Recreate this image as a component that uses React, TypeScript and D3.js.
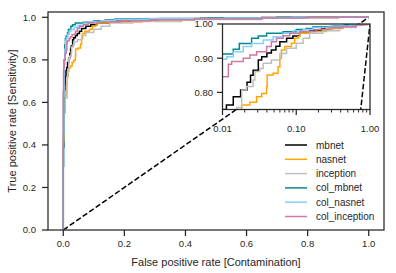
import React from 'react';
import * as d3 from 'd3';

type Pt = [number, number];

// ROC points: [fpr, tpr] where the curve steps up
const mbnet: Pt[] = [
  [0, 0], [0, 0.39], [0.002, 0.55], [0.004, 0.66], [0.006, 0.72], [0.009, 0.75],
  [0.0113, 0.763], [0.014, 0.787], [0.0176, 0.807], [0.0215, 0.83], [0.024, 0.85],
  [0.026, 0.865], [0.0306, 0.895], [0.034, 0.904], [0.04, 0.915], [0.046, 0.924],
  [0.053, 0.935], [0.06, 0.948], [0.074, 0.958], [0.09, 0.965], [0.111, 0.973],
  [0.152, 0.982], [0.22, 0.987], [0.31, 0.992], [0.45, 0.996], [0.65, 0.999],
  [0.8, 1], [1, 1],
];
const nasnet: Pt[] = [
  [0, 0], [0, 0.42], [0.003, 0.55], [0.006, 0.63], [0.01, 0.68], [0.013, 0.72],
  [0.016, 0.745], [0.0182, 0.763], [0.0235, 0.771], [0.029, 0.787], [0.0339, 0.797],
  [0.0396, 0.817], [0.0403, 0.851], [0.0486, 0.856], [0.0567, 0.875], [0.06, 0.9],
  [0.063, 0.924], [0.07, 0.934], [0.086, 0.944], [0.0955, 0.958], [0.106, 0.963],
  [0.111, 0.973], [0.152, 0.978], [0.256, 0.987], [0.429, 0.994], [0.65, 0.997],
  [0.9, 1], [1, 1],
];
const inception: Pt[] = [
  [0, 0], [0, 0.45], [0.003, 0.55], [0.006, 0.62], [0.0125, 0.72], [0.0156, 0.756],
  [0.0182, 0.807], [0.0212, 0.817], [0.026, 0.836], [0.0275, 0.861], [0.032, 0.87],
  [0.0356, 0.885], [0.046, 0.895], [0.06, 0.914], [0.074, 0.929], [0.1, 0.944],
  [0.124, 0.958], [0.152, 0.973], [0.228, 0.98], [0.387, 0.99], [0.65, 0.997],
  [0.9, 1], [1, 1],
];
const colMbnet: Pt[] = [
  [0, 0], [0, 0.3], [0.001, 0.66], [0.003, 0.8], [0.005, 0.87], [0.007, 0.9],
  [0.0095, 0.912], [0.014, 0.926], [0.0169, 0.943], [0.0248, 0.958], [0.0305, 0.965],
  [0.0396, 0.973], [0.0663, 0.977], [0.1, 0.984], [0.137, 0.987], [0.169, 0.992],
  [0.314, 0.995], [0.477, 0.997], [0.7, 1], [1, 1],
];
const colNasnet: Pt[] = [
  [0, 0], [0, 0.3], [0.001, 0.63], [0.003, 0.78], [0.005, 0.85], [0.008, 0.89],
  [0.0095, 0.897], [0.0114, 0.904], [0.014, 0.919], [0.0191, 0.934], [0.0248, 0.943],
  [0.0356, 0.953], [0.0486, 0.963], [0.0663, 0.973], [0.0905, 0.98], [0.124, 0.984],
  [0.169, 0.99], [0.284, 0.994], [0.528, 0.997], [0.75, 1], [1, 1],
];
const colInception: Pt[] = [
  [0, 0], [0, 0.65], [0.001, 0.76], [0.003, 0.8], [0.006, 0.83], [0.0095, 0.846],
  [0.012, 0.882], [0.0133, 0.89], [0.0191, 0.9], [0.0235, 0.909], [0.029, 0.919],
  [0.0396, 0.934], [0.046, 0.948], [0.054, 0.958], [0.0663, 0.966], [0.0817, 0.973],
  [0.111, 0.978], [0.187, 0.984], [0.284, 0.989], [0.429, 0.992], [0.65, 0.997],
  [0.8, 1], [1, 1],
];

const names = ['mbnet', 'nasnet', 'inception', 'col_mbnet', 'col_nasnet', 'col_inception'];
const colors = ['#000000', '#ffa500', '#c0c0c0', '#008b8b', '#87cefa', '#cc79a7'];
const curves = [mbnet, nasnet, inception, colMbnet, colNasnet, colInception];

const diagonal: Pt[] = [[0, 0], [1, 1]];
const insetDiagonal: Pt[] = [[0.74, 0.74], [1, 1]];

const mainTicks = [0, 0.2, 0.4, 0.6, 0.8, 1.0];
const insetYTicks = [0.8, 0.9, 1.0];
const insetXTicks = [0.01, 0.1, 1];

const ink = '#262626';
const font = '"Liberation Sans", Arial, sans-serif';

const App = () => {
  const width = 396;
  const height = 273;

  const x = d3.scaleLinear().domain([-0.05, 1.05]).range([48, 384]);
  const y = d3.scaleLinear().domain([0, 1.025]).range([230, 12]);

  const xi = d3.scaleLog().domain([0.01, 1]).range([222.5, 370]);
  const yi = d3.scaleLinear().domain([0.75, 1.0]).range([109.5, 24]);

  const mainLine = d3.line<Pt>().x((d) => x(d[0])).y((d) => y(d[1])).curve(d3.curveStepAfter);
  const insetLine = d3.line<Pt>().x((d) => xi(d[0])).y((d) => yi(d[1])).curve(d3.curveStepAfter);
  const straightMain = d3.line<Pt>().x((d) => x(d[0])).y((d) => y(d[1]));
  const straightInset = d3.line<Pt>().x((d) => xi(d[0])).y((d) => yi(d[1]));

  const minorX = xi.ticks().filter((t) => !insetXTicks.some((m) => Math.abs(m - t) < 1e-9));

  return (
    <svg
      width={width}
      height={height}
      style={{ position: 'fixed', left: 0, top: 0, background: '#fff' }}
      fontFamily={font}
    >
      <defs>
        <clipPath id="mainClip">
          <rect x={48} y={12} width={336} height={218} />
        </clipPath>
        <clipPath id="insetClip">
          <rect x={222.5} y={24} width={147.5} height={85.5} />
        </clipPath>
      </defs>
      <rect width={width} height={height} fill="#fff" />

      {/* main curves */}
      <g clipPath="url(#mainClip)">
        <path d={straightMain(diagonal) || ''} fill="none" stroke="#000" strokeWidth={1.5} strokeDasharray="5.5,2.4" />
        {curves.map((c, i) => (
          <path key={i} d={mainLine(c) || ''} fill="none" stroke={colors[i]} strokeWidth={1.5} />
        ))}
      </g>

      {/* main frame */}
      <rect x={48} y={12} width={336} height={218} fill="none" stroke={ink} strokeWidth={1.25} />

      {/* main x ticks */}
      {mainTicks.map((t) => (
        <g key={'x' + t}>
          <line x1={x(t)} x2={x(t)} y1={230} y2={236} stroke={ink} strokeWidth={1.25} />
          <text x={x(t)} y={247} textAnchor="middle" fontSize={9.5} fill={ink}>
            {d3.format('.1f')(t)}
          </text>
        </g>
      ))}
      {/* main y ticks */}
      {mainTicks.map((t) => (
        <g key={'y' + t}>
          <line x1={42} x2={48} y1={y(t)} y2={y(t)} stroke={ink} strokeWidth={1.25} />
          <text x={36} y={y(t)} dy="0.35em" textAnchor="end" fontSize={9.5} fill={ink}>
            {d3.format('.1f')(t)}
          </text>
        </g>
      ))}

      <text x={216} y={266} textAnchor="middle" fontSize={11} fill={ink}>
        False positive rate [Contamination]
      </text>
      <text
        transform={`translate(16,121) rotate(-90)`}
        textAnchor="middle"
        fontSize={11}
        fill={ink}
      >
        True positive rate [Sensitivity]
      </text>

      {/* inset */}
      <rect x={222.5} y={24} width={147.5} height={85.5} fill="#fff" />
      <g clipPath="url(#insetClip)">
        <path d={straightInset(insetDiagonal) || ''} fill="none" stroke="#000" strokeWidth={1.5} strokeDasharray="5.5,2.4" />
        {curves.map((c, i) => (
          <path
            key={i}
            d={insetLine(c.filter((d) => d[0] > 0)) || ''}
            fill="none"
            stroke={colors[i]}
            strokeWidth={1.5}
          />
        ))}
      </g>
      <rect x={222.5} y={24} width={147.5} height={85.5} fill="none" stroke={ink} strokeWidth={1.25} />
      {insetXTicks.map((t) => (
        <g key={'ix' + t}>
          <line x1={xi(t)} x2={xi(t)} y1={109.5} y2={115} stroke={ink} strokeWidth={1.25} />
          <text x={xi(t)} y={131.5} textAnchor="middle" fontSize={9.5} fill={ink}>
            {d3.format('.2f')(t)}
          </text>
        </g>
      ))}
      {minorX.map((t) => (
        <line key={'m' + t} x1={xi(t)} x2={xi(t)} y1={109.5} y2={112.5} stroke={ink} strokeWidth={1} />
      ))}
      {insetYTicks.map((t) => (
        <g key={'iy' + t}>
          <line x1={217} x2={222.5} y1={yi(t)} y2={yi(t)} stroke={ink} strokeWidth={1.25} />
          <text x={213} y={yi(t)} dy="0.35em" textAnchor="end" fontSize={9.5} fill={ink}>
            {d3.format('.2f')(t)}
          </text>
        </g>
      ))}

      {/* legend */}
      {names.map((n, i) => {
        const ly = 145 + i * 14.3;
        return (
          <g key={n}>
            <line x1={285} x2={307} y1={ly} y2={ly} stroke={colors[i]} strokeWidth={1.5} />
            <text x={316} y={ly} dy="0.35em" fontSize={10} fill={ink}>
              {n}
            </text>
          </g>
        );
      })}
    </svg>
  );
};

export default App;
